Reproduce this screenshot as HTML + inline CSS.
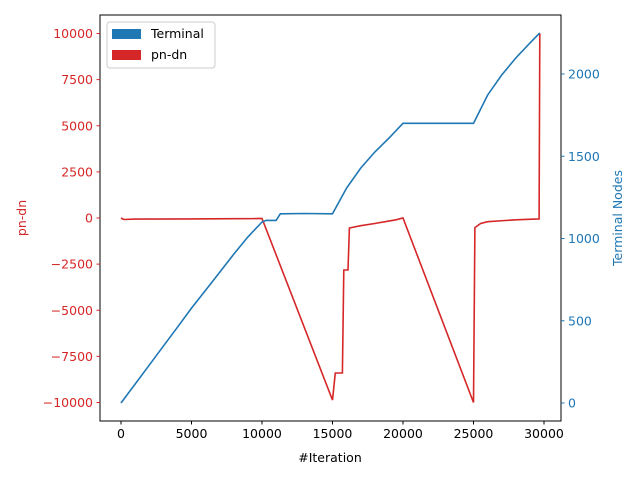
<!DOCTYPE html>
<html><head><meta charset="utf-8"><style>
body{margin:0;background:#fff;font-family:"DejaVu Sans","Liberation Sans",sans-serif}
svg text{font-family:"DejaVu Sans","Liberation Sans",sans-serif;font-size:12.5px}
</style></head><body>
<svg id="chart" width="640" height="480">
<g id="lines"></g>
<g id="axes"></g>
<g>
<rect x="107" y="22" width="108" height="46" rx="3" fill="#fff" fill-opacity="0.8" stroke="#ccc"/>
<rect x="112" y="29" width="29" height="10" fill="#1f77b4"/>
<text x="151" y="38">Terminal</text>
<rect x="112" y="50" width="29" height="10" fill="#d62728"/>
<text x="151" y="59">pn-dn</text>
</g>
</svg>
<script>
const termIter=[0,1000,2000,3000,4000,5000,6000,7000,8000,9000,10000,10300,11000,11300,13000,15000,16000,17000,18000,19000,20000,22500,25000,26000,27000,28000,29000,29700];
const termVals=[0,115,230,345,460,577,685,795,905,1010,1100,1110,1110,1150,1152,1150,1307,1428,1526,1610,1700,1700,1700,1872,1994,2097,2188,2250];
const pnIter=[0,200,1000,5000,9500,10000,15000,15200,15700,15800,16100,16200,17000,18000,19500,20000,25000,25100,25500,26000,28000,29600,29650,29700];
const pnVals=[0,-80,-60,-50,-30,-20,-9870,-8400,-8400,-2820,-2820,-540,-420,-300,-100,0,-10000,-520,-300,-200,-100,-50,-50,10000];
const leftTicks=[-10000,-7500,-5000,-2500,0,2500,5000,7500,10000];
const rightTicks=[0,500,1000,1500,2000];
const xTicks=[0,5000,10000,15000,20000,25000,30000];

const X=v=>121+v*(423/30000);
const YL=v=>218-v*(184.5/10000);
const YR=v=>403-v*0.1645;
const NS="http://www.w3.org/2000/svg";
function mk(tag,attrs,parent){const e=document.createElementNS(NS,tag);for(const k in attrs)e.setAttribute(k,attrs[k]);parent.appendChild(e);return e;}
const lines=document.getElementById('lines'),axes=document.getElementById('axes');

const pnPts=pnIter.map((t,i)=>X(t).toFixed(1)+','+YL(pnVals[i]).toFixed(1)).join(' ');
const pl=mk('polyline',{points:pnPts,fill:'none',stroke:'#d62728','stroke-width':1.6},lines);


const tPts=termIter.map((t,i)=>X(t).toFixed(1)+','+YR(termVals[i]).toFixed(1)).join(' ');
const tl=mk('polyline',{points:tPts,fill:'none',stroke:'#1f77b4','stroke-width':1.6},lines);



const fr=mk('rect',{x:100,y:15,width:461,height:406,fill:'none',stroke:'#000','stroke-width':1},axes);



xTicks.forEach(v=>{const x=X(v);
 mk('line',{x1:x,x2:x,y1:421,y2:424.5,stroke:'#000'},axes);
 const t=mk('text',{x:x,y:438,'text-anchor':'middle'},axes);t.textContent=v;
 
 });
leftTicks.forEach(v=>{const y=YL(v);
 mk('line',{x1:96.5,x2:100,y1:y,y2:y,stroke:'#d62728'},axes);
 const t=mk('text',{x:93,y:y+4.5,'text-anchor':'end',fill:'#d62728'},axes);t.textContent=v<0?'\u2212'+(-v):v;
 
 });
rightTicks.forEach(v=>{const y=YR(v);
 mk('line',{x1:561,x2:564.5,y1:y,y2:y,stroke:'#1f77b4'},axes);
 const t=mk('text',{x:568,y:y+4.5,fill:'#1f77b4'},axes);t.textContent=v;
 
 });
const xl=mk('text',{x:330,y:462,'text-anchor':'middle'},axes);xl.textContent='#Iteration';


const yl=mk('text',{x:0,y:0,'text-anchor':'middle',fill:'#d62728',transform:'translate(26,218) rotate(-90)'},axes);yl.textContent='pn-dn';


const yr=mk('text',{x:0,y:0,'text-anchor':'middle',fill:'#1f77b4',transform:'translate(622,218) rotate(-90)'},axes);yr.textContent='Terminal Nodes';


</script>
</body></html>
